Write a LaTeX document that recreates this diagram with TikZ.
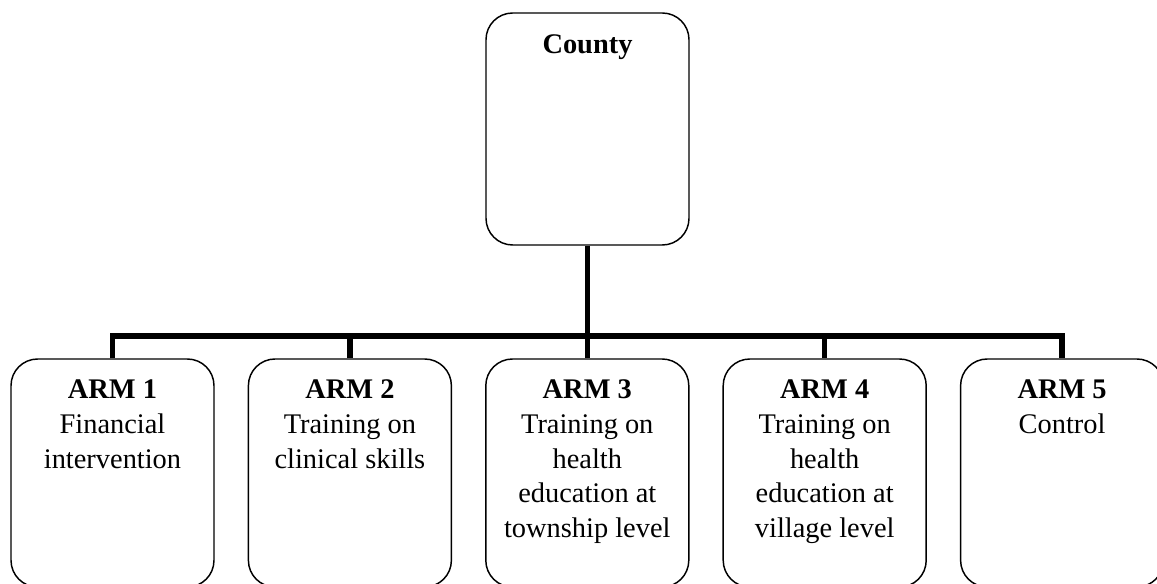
\documentclass[tikz,border=0pt]{standalone}
\usepackage{fontspec}
\setmainfont{Liberation Serif}
% centred lines whose baseline is that of the first line
\newcommand{\armlines}[1]{\begin{tabular}[t]{@{}c@{}}#1\end{tabular}}
\begin{document}
\begin{tikzpicture}[x=0.75pt,y=-0.75pt,
  boxshape/.style={draw, line width=1.1pt, rounded corners=20pt,
    minimum width=152.25pt, inner sep=0pt},
  countybox/.style={boxshape, minimum height=174pt},
  armbox/.style={boxshape, minimum height=171pt},
  boxtext/.style={anchor=base, inner sep=0pt, font=\fontsize{21.3}{26}\selectfont},
  conn/.style={line width=4pt}]
\useasboundingbox (0,0) rectangle (1157,584);

% top box
\node[countybox] (county) at (587.5,129) {};
\node[boxtext] (countylabel) at (587.5,54) {\textbf{County}};

% the five arms
\node[armbox] (arm1) at (112.5,473) {};
\node[armbox] (arm2) at (349.9,473) {};
\node[armbox] (arm3) at (587.3,473) {};
\node[armbox] (arm4) at (824.7,473) {};
\node[armbox] (arm5) at (1062.1,473) {};

\node[boxtext] (arm1label) at (112.5,399)
  {\armlines{\textbf{ARM 1}\\Financial\\intervention}};
\node[boxtext] (arm2label) at (349.9,399)
  {\armlines{\textbf{ARM 2}\\Training on\\clinical skills}};
\node[boxtext] (arm3label) at (587.3,399)
  {\armlines{\textbf{ARM 3}\\Training on\\health\\education at\\township level}};
\node[boxtext] (arm4label) at (824.7,399)
  {\armlines{\textbf{ARM 4}\\Training on\\health\\education at\\village level}};
\node[boxtext] (arm5label) at (1062.1,399)
  {\armlines{\textbf{ARM 5}\\Control}};

% tree connectors
\coordinate (bus) at (587.5,336);
\draw[conn] (county.south) -- (bus);
\draw[conn] (arm1.north) |- (bus) -| (arm5.north);
\foreach \i in {2,3,4}
  \draw[conn] (arm\i.north) -- (arm\i.north |- bus);
\end{tikzpicture}
\end{document}
